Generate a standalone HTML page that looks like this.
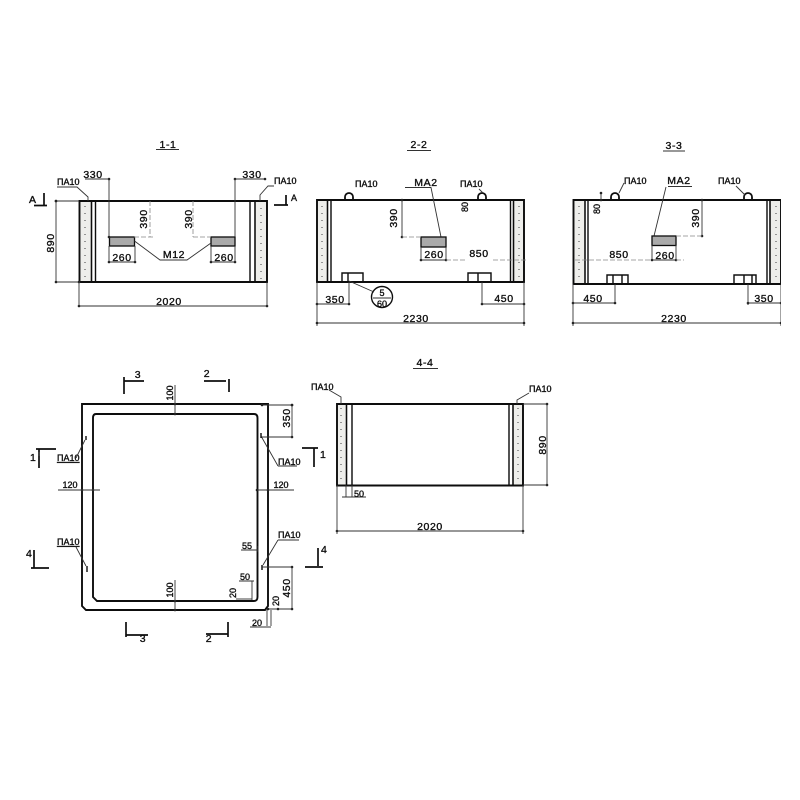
<!DOCTYPE html>
<html><head><meta charset="utf-8"><style>
html,body{margin:0;padding:0;background:#fff}
svg{display:block}
text{font-family:"Liberation Sans",sans-serif;font-size:10.5px;fill:#111;letter-spacing:.6px;stroke:#111;stroke-width:.35px}
.m{text-anchor:middle}
.s{font-size:9px;letter-spacing:0}
.o{fill:none;stroke:#111;stroke-width:1.9}
.t{fill:none;stroke:#111;stroke-width:1.4}
.w{fill:#eeeeeb;stroke:#1a1a1a;stroke-width:1.3}
.d{fill:none;stroke:#333;stroke-width:.9;marker-start:url(#k);marker-end:url(#k)}
.l{fill:none;stroke:#333;stroke-width:.9}
.x{fill:none;stroke:#888;stroke-width:.8;stroke-dasharray:5 2}
.h{fill:none;stroke:#111;stroke-width:1.7}
.b{fill:#aaa;stroke:#111;stroke-width:1.3}
.p{fill:none;stroke:#777;stroke-width:1.5;stroke-dasharray:1 6}
.q{fill:none;stroke:#111;stroke-width:1.8}
</style></head><body>
<svg width="800" height="800" viewBox="0 0 800 800" xmlns="http://www.w3.org/2000/svg">
<defs>
<marker id="k" markerWidth="4" markerHeight="4" refX="2" refY="2" markerUnits="userSpaceOnUse"><circle cx="2" cy="2" r="1.3" fill="#222"/></marker>
<filter id="f" x="0" y="0" width="100%" height="100%"><feGaussianBlur stdDeviation=".35"/></filter>
</defs>
<g filter="url(#f)">

<!-- 1-1 -->
<text class="m" x="168" y="148">1-1</text><path class="l" d="M156 149.500H179"/>
<rect class="w" x="79.500" y="201" width="12" height="81"/>
<rect class="w" x="255" y="201" width="12" height="81"/>
<path class="p" d="M85 206V280M261 208V280"/>
<path class="o" d="M79.500 201H267V282H79.500Z"/>
<path class="t" d="M91.500 201V282M95.500 201V282M250 201V282M255 201V282"/>
<rect class="b" x="109.500" y="237" width="25" height="9"/>
<rect class="b" x="211" y="237" width="24" height="9"/>
<path class="l" d="M134.500 241L160 260H187L211 243H211"/>
<text class="m" x="174" y="258">М12</text>
<path class="d" d="M56 201H79M56 282H79"/>
<path class="d" d="M56 201V282"/>
<text class="m" transform="translate(54 243) rotate(-90)">890</text>
<path class="d" d="M79 306H267"/><path class="l" d="M79 282V306M267 282V306"/>
<text class="m" x="169" y="305">2020</text>
<path class="d" d="M109 179V237"/><path class="l" d="M85 179H109"/>
<text class="m" x="93" y="178">330</text>
<path class="d" d="M235 179H265"/><path class="l" d="M235 179V237"/>
<text class="m" x="252" y="178">330</text>
<text class="s" x="57" y="185">ПА10</text><path class="l" d="M57 187H77L88 197V201"/>
<text class="s" x="274" y="184">ПА10</text><path class="l" d="M274 186H268L260 195V201"/>
<path class="x" d="M150 201V237M193 201V237M134 237H154M193 237H211"/>
<text class="m" transform="translate(147 219) rotate(-90)">390</text>
<text class="m" transform="translate(192 219) rotate(-90)">390</text>
<path class="d" d="M109 262H135"/><path class="d" d="M211 262H235"/>
<path class="l" d="M109 246V262M135 246V262M211 246V262M235 246V262"/>
<text class="m" x="122" y="261">260</text><text class="m" x="224" y="261">260</text>
<path class="h" d="M34 205.500H47M44 193V205M274 205H288M286 195V205"/>
<text x="29" y="203">А</text><text class="s" x="291" y="201">А</text>

<!-- 2-2 -->
<text class="m" x="419" y="148">2-2</text><path class="l" d="M407 150.500H431"/>
<rect class="w" x="317" y="200" width="10.500" height="82"/>
<rect class="w" x="513.500" y="200" width="10.500" height="82"/>
<path class="p" d="M322 206V280M519 206V280"/>
<path class="o" d="M317 200H524V282H317Z"/>
<path class="t" d="M327.500 200V282M331 200V282M510.500 200V282M513.500 200V282"/>
<path class="q" d="M345 200V197A4 4 0 0 1 353 197V200M478 200V197A4 4 0 0 1 486 197V200"/>
<text class="s" x="355" y="187">ПА10</text>
<text class="s" x="460" y="187">ПА10</text><path class="l" d="M479 189L483 193"/>
<text class="m" x="426" y="186">МА2</text>
<path class="l" d="M405 187.500H431L441 237"/>
<rect class="b" x="421" y="237" width="25" height="10"/>
<path class="t" d="M342 282V273H363V282M348 273V282M468 282V273H491V282M478 273V282"/>
<circle class="t" cx="382" cy="297" r="10.500"/>
<path class="l" d="M373 298H391M349 281L374 292"/>
<text class="m s" x="382" y="296">5</text>
<text class="m s" x="382" y="307">60</text>
<text class="m" transform="translate(397 218) rotate(-90)">390</text>
<path class="d" d="M402 200V237"/><path class="x" d="M402 237H421"/>
<text class="m s" transform="translate(468 207) rotate(-90)">80</text>
<path class="d" d="M421 260H446"/><path class="l" d="M421 247V260M446 247V260"/>
<text class="m" x="434" y="258">260</text>
<path class="x" d="M446 260H466M493 260H526"/>
<text class="m" x="479" y="257">850</text>
<path class="d" d="M317 304H349"/><path class="d" d="M482 304H524"/>
<path class="l" d="M349 282V304M482 282V304M317 282V326M524 282V326"/>
<text class="m" x="335" y="303">350</text><text class="m" x="504" y="302">450</text>
<path class="d" d="M317 323H524"/>
<text class="m" x="416" y="322">2230</text>

<!-- 3-3 -->
<text class="m" x="674" y="149">3-3</text><path class="l" d="M663 151H685"/>
<rect class="w" x="573.500" y="200" width="11.500" height="84"/>
<rect class="w" x="770" y="200" width="11" height="84"/>
<path class="p" d="M579 206V280M776 206V280"/>
<path class="o" d="M573.500 200H781V284H573.500Z"/>
<path class="t" d="M585 200V284M588 200V284M767 200V284M770 200V284"/>
<path class="q" d="M611 200V197A4 4 0 0 1 619 197V200M744 200V197A4 4 0 0 1 752 197V200"/>
<text class="s" x="624" y="184">ПА10</text><path class="l" d="M624 183L619 193"/>
<text class="s" x="718" y="184">ПА10</text><path class="l" d="M736 186L745 195"/>
<text class="m" x="679" y="184">МА2</text>
<path class="l" d="M668 186.500H692M666 187L654 236"/>
<rect class="b" x="652" y="236" width="24" height="9.500"/>
<path class="d" d="M601 193V200"/>
<text class="m s" transform="translate(600 209) rotate(-90)">80</text>
<text class="m" transform="translate(699 218) rotate(-90)">390</text>
<path class="d" d="M702 200V236"/><path class="x" d="M676 236H702"/>
<path class="x" d="M575 260H652"/>
<text class="m" x="619" y="258">850</text>
<path class="d" d="M652 260H676"/><path class="l" d="M652 245V260M676 245V260"/>
<path class="x" d="M676 260H684"/>
<text class="m" x="665" y="259">260</text>
<path class="t" d="M607 284V275H628V284M613 275V284M622 275V284M734 284V275H756V284M744 275V284M752 275V284"/>
<path class="d" d="M573 303H615"/><path class="d" d="M748 303H781"/>
<path class="l" d="M615 284V303M748 284V305M573 284V326M781 284V326"/>
<text class="m" x="593" y="302">450</text><text class="m" x="764" y="302">350</text>
<path class="d" d="M573 323H781"/>
<text class="m" x="674" y="322">2230</text>

<!-- plan -->
<path class="o" d="M82 404H268V606L265 610H86L82 606Z"/>
<path class="o" d="M96 414H254Q257.500 414 257.500 418V597Q257.500 601 254 601H97L93 597V418Q93 414 96 414Z"/>
<path class="h" d="M124 377V394M124 381H144M229 379V392M204 381H226M126 622V637M126 635H148M228 622V637M206 634H228"/>
<text class="m" x="138" y="378">3</text><text class="m" x="207" y="377">2</text>
<text class="m" x="143" y="642">3</text><text class="m" x="209" y="642">2</text>
<path class="h" d="M36 449H56M39 449V468M31 568H49M34 550V568"/>
<path class="l" d="M39 452V456"/>
<text x="30" y="461">1</text><text x="26" y="557">4</text>
<path class="h" d="M302 448H318M314 448V467M305 567H323M318 548V566"/>
<text x="320" y="458">1</text><text x="321" y="553">4</text>
<text class="s" x="57" y="461" style="text-decoration:underline">ПА10</text>
<path class="l" d="M76 458L85 440"/><path class="t" d="M86 436V440"/>
<text class="s" x="57" y="545" style="text-decoration:underline">ПА10</text>
<path class="l" d="M76 547L86 566"/><path class="t" d="M87 566V572"/>
<text class="s" x="278" y="465">ПА10</text>
<path class="l" d="M278 466H297M278 466L261 436"/><path class="t" d="M261 433V438"/>
<text class="s" x="278" y="538">ПА10</text>
<path class="l" d="M278 540H299M278 540L263 565"/><path class="t" d="M262 565V570"/>
<path class="d" d="M82 490H93"/><path class="l" d="M58 490H100M257 490H294"/>
<text class="m s" x="70" y="488">120</text><text class="m s" x="281" y="488">120</text>
<path class="d" d="M257 490H268"/>
<text class="m s" transform="translate(173 393) rotate(-90)">100</text>
<path class="d" d="M175 404V414"/><path class="l" d="M175 385V404"/>
<text class="m s" transform="translate(173 590) rotate(-90)">100</text>
<path class="d" d="M175 601V610"/><path class="l" d="M175 580V601"/>
<path class="d" d="M262 405H292"/><path class="d" d="M292 405V437"/><path class="l" d="M262 437H292"/>
<text class="m" transform="translate(290 418) rotate(-90)">350</text>
<path class="d" d="M292 567V609"/><path class="l" d="M262 567H292M268 609H292"/>
<text class="m" transform="translate(290 588) rotate(-90)">450</text>
<text class="m s" x="247" y="549">55</text><path class="l" d="M241 550H258M258 546V552"/>
<text class="m s" x="245" y="580">50</text><path class="l" d="M239 581H254M252 581V600"/>
<text class="m s" transform="translate(236 593) rotate(-90)">20</text><path class="l" d="M236 599H252"/>
<text class="m s" transform="translate(279 601) rotate(-90)">20</text><path class="d" d="M268 609H278"/>
<path class="l" d="M267 610V626M271 610V626"/>
<text class="m s" x="257" y="626">20</text><path class="l" d="M250 627H271"/>

<!-- 4-4 -->
<text class="m" x="425" y="366">4-4</text><path class="l" d="M413 368.500H438"/>
<rect class="w" x="337" y="404" width="9.500" height="81.500"/>
<rect class="w" x="513" y="404" width="10" height="81.500"/>
<path class="p" d="M341 408V483M518 408V483"/>
<path class="o" d="M337 404H523V485.500H337Z"/>
<path class="t" d="M346.500 404V485.500M352 404V485.500M509 404V485.500M513 404V485.500"/>
<text class="s" x="311" y="390">ПА10</text><path class="l" d="M329 390L341 397V404"/>
<text class="s" x="529" y="392">ПА10</text><path class="l" d="M529 393L517 400V404"/>
<path class="d" d="M547 404V485"/><path class="l" d="M523 404H547M523 485H547"/>
<text class="m" transform="translate(546 445) rotate(-90)">890</text>
<path class="l" d="M346 485V497M352 485V497M342 497H366"/>
<text class="s" x="354" y="497">50</text>
<path class="d" d="M337 531H523"/><path class="l" d="M337 485V534M523 485V534"/>
<text class="m" x="430" y="530">2020</text>
</g>
</svg>
</body></html>
